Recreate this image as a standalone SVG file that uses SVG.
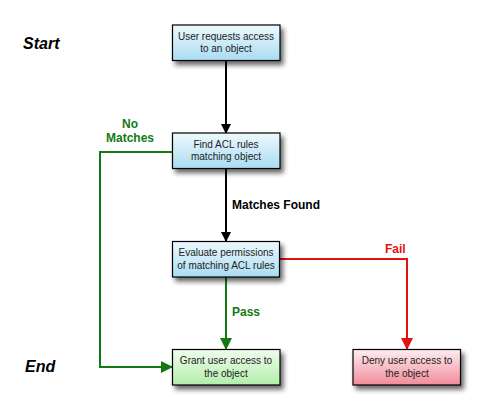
<svg xmlns="http://www.w3.org/2000/svg" width="490" height="418" viewBox="0 0 490 418">
<defs>
<linearGradient id="gBlue" x1="0" y1="0" x2="0" y2="1"><stop offset="0" stop-color="#eef9fd"/><stop offset="1" stop-color="#a9dcf2"/></linearGradient>
<linearGradient id="gGreen" x1="0" y1="0" x2="0" y2="1"><stop offset="0" stop-color="#f0fdee"/><stop offset="1" stop-color="#b2eea9"/></linearGradient>
<linearGradient id="gRed" x1="0" y1="0" x2="0" y2="1"><stop offset="0" stop-color="#fdeef0"/><stop offset="1" stop-color="#f28b9a"/></linearGradient>
<filter id="sh" x="-20%" y="-20%" width="150%" height="160%"><feGaussianBlur in="SourceAlpha" stdDeviation="2.5"/><feOffset dx="3" dy="4" result="b"/><feComponentTransfer><feFuncA type="linear" slope="0.6"/></feComponentTransfer><feMerge><feMergeNode/><feMergeNode in="SourceGraphic"/></feMerge></filter>
<marker id="aBlack" markerWidth="10" markerHeight="10" refX="9" refY="5" orient="auto" markerUnits="userSpaceOnUse"><path d="M0,0 L10,5 L0,10 z" fill="#000"/></marker>
<marker id="aGreen" markerWidth="12" markerHeight="12" refX="11" refY="6" orient="auto" markerUnits="userSpaceOnUse"><path d="M0,0 L12,6 L0,12 z" fill="#137a13"/></marker>
<marker id="aRed" markerWidth="12" markerHeight="12" refX="11" refY="6" orient="auto" markerUnits="userSpaceOnUse"><path d="M0,0 L12,6 L0,12 z" fill="#e01212"/></marker>
</defs>
<style>
.box{stroke:#000;stroke-width:1.2;filter:url(#sh)}
.t{font-family:"Liberation Sans",Arial,sans-serif;font-size:10px;fill:#222;text-anchor:middle}
.lab{font-family:"Liberation Sans",Arial,sans-serif;font-size:12px;font-weight:bold}
.side{font-family:"Liberation Sans",Arial,sans-serif;font-size:16px;font-weight:bold;font-style:italic;fill:#000}
.c{fill:none;stroke-width:2}
</style>
<text class="side" x="23" y="48.5">Start</text>
<text class="side" x="25" y="372">End</text>
<g id="connectors">
<line class="c" x1="226" y1="61" x2="226" y2="133" stroke="#000" marker-end="url(#aBlack)"/>
<line class="c" x1="226" y1="169" x2="226" y2="241" stroke="#000" marker-end="url(#aBlack)"/>
<polyline class="c" points="172,152 100,152 100,367 172,367" stroke="#137a13" marker-end="url(#aGreen)"/>
<line class="c" x1="226" y1="277" x2="226" y2="349" stroke="#137a13" marker-end="url(#aGreen)"/>
<polyline class="c" points="280,259 407,259 407,349" stroke="#e01212" marker-end="url(#aRed)"/>
<text class="lab" x="130" y="127.5" text-anchor="middle" fill="#137a13">No</text>
<text class="lab" x="130" y="141.5" text-anchor="middle" fill="#137a13">Matches</text>
<text class="lab" x="232" y="209" fill="#000">Matches Found</text>
<text class="lab" x="232" y="316" fill="#137a13">Pass</text>
<text class="lab" x="385" y="253" fill="#e01212">Fail</text>
</g>
<g id="n1"><rect class="box" x="172.5" y="25" width="107.5" height="35.5" fill="url(#gBlue)"/><text class="t" x="226" y="39.5">User requests access</text><text class="t" x="226" y="52">to an object</text></g>
<g id="n2"><rect class="box" x="172.5" y="133" width="107.5" height="35.5" fill="url(#gBlue)"/><text class="t" x="226" y="147.5">Find ACL rules</text><text class="t" x="226" y="160">matching object</text></g>
<g id="n3"><rect class="box" x="172.5" y="241.5" width="107" height="35.5" fill="url(#gBlue)"/><text class="t" x="226" y="256">Evaluate permissions</text><text class="t" x="226" y="268.5">of matching ACL rules</text></g>
<g id="n4"><rect class="box" x="172.5" y="349.5" width="107.5" height="35.5" fill="url(#gGreen)"/><text class="t" x="226" y="364">Grant user access to</text><text class="t" x="226" y="376.5">the object</text></g>
<g id="n5"><rect class="box" x="353" y="349.5" width="107.5" height="35.5" fill="url(#gRed)"/><text class="t" x="407" y="364">Deny user access to</text><text class="t" x="407" y="376.5">the object</text></g>
</svg>
